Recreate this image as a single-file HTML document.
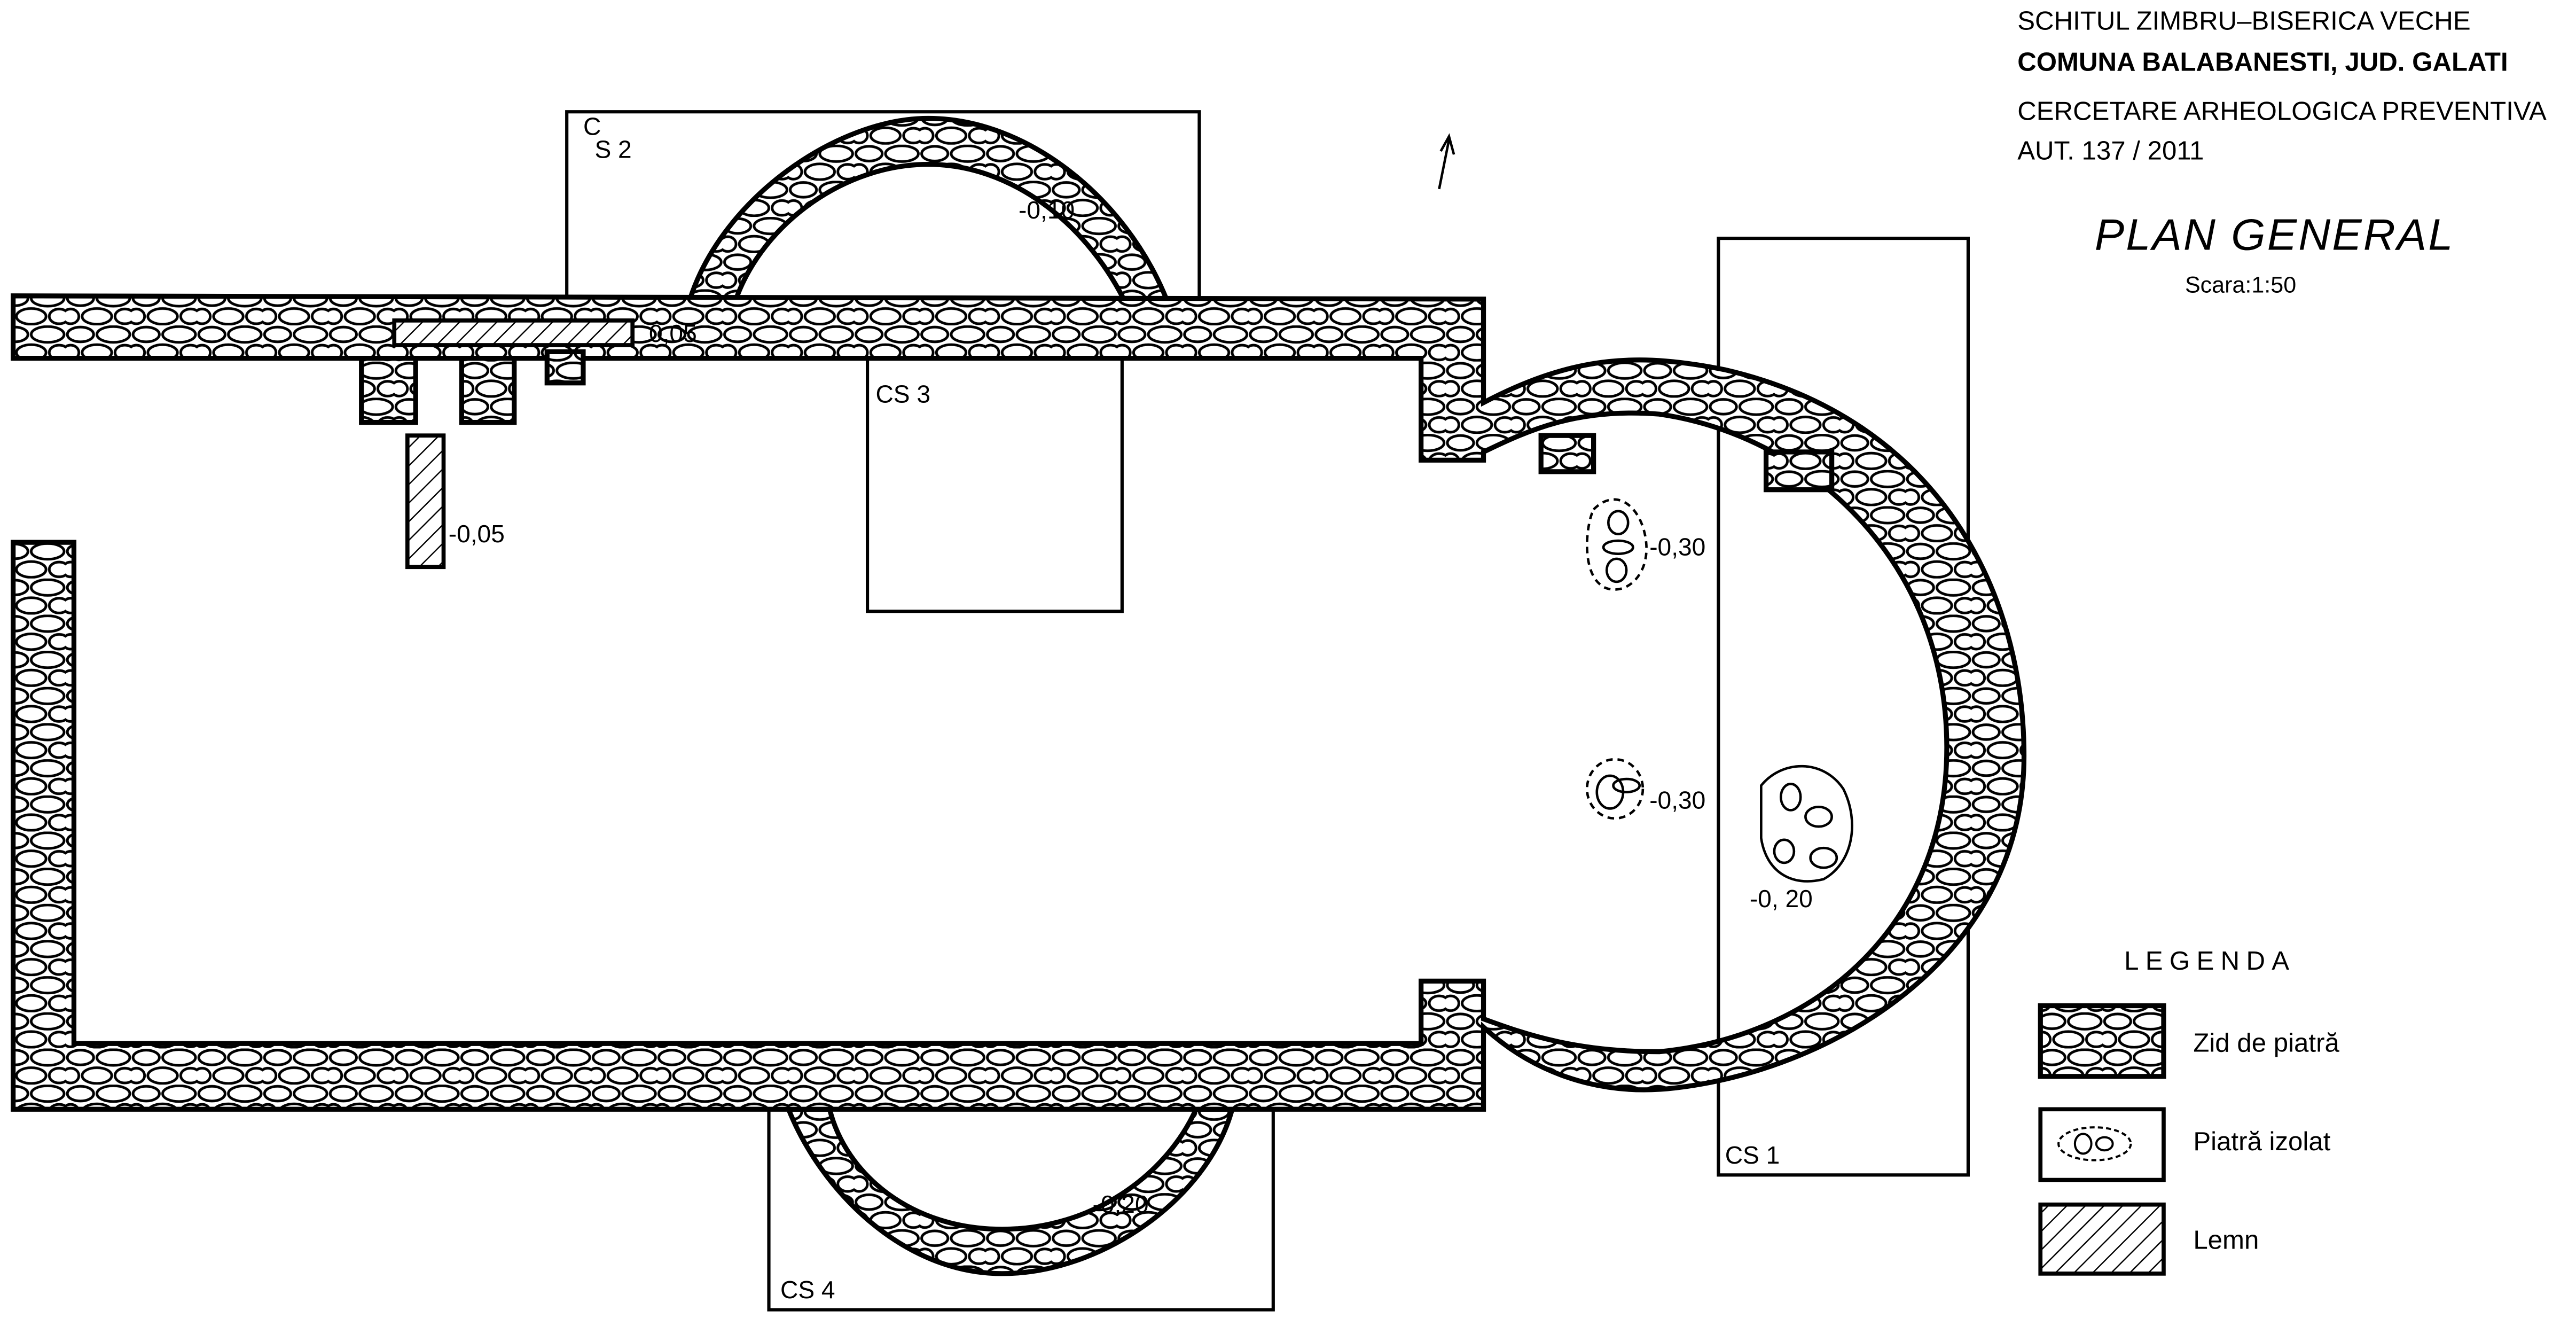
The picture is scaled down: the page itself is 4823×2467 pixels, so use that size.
<!DOCTYPE html>
<html><head><meta charset="utf-8"><style>
html,body{margin:0;padding:0;background:#fff}
svg{display:block}
text{font-family:"Liberation Sans",sans-serif;fill:#000}
</style></head><body>
<svg width="4823" height="2467" viewBox="0 0 1568 802" xmlns="http://www.w3.org/2000/svg">
<defs>
<pattern id="st" width="40" height="22" patternUnits="userSpaceOnUse">
<rect width="40" height="22" fill="#fff"/>
<g fill="#fff" stroke="#000" stroke-width="1.6">
<ellipse cx="9" cy="5.5" rx="8" ry="4.5"/>
<ellipse cx="29" cy="5.5" rx="10" ry="4.8"/>
<ellipse cx="3" cy="16.5" rx="5" ry="4.5"/>
<ellipse cx="19" cy="16.5" rx="9" ry="4.8"/>
<ellipse cx="36" cy="16.5" rx="6" ry="4.5"/>
</g>
</pattern>
<pattern id="hat" width="8" height="8" patternUnits="userSpaceOnUse" patternTransform="rotate(45)">
<rect width="8" height="8" fill="#fff"/><line x1="0" y1="0" x2="0" y2="8" stroke="#000" stroke-width="1.6"/>
</pattern>
</defs>
<g fill="none" stroke="#000" stroke-width="2">
<rect x="345" y="68" width="385" height="114"/>
<rect x="528" y="218" width="155" height="154"/>
<rect x="468" y="675" width="307" height="122"/>
<rect x="1046" y="145" width="152" height="570"/>
</g>
<g fill="url(#st)" stroke="#000" stroke-width="3">
<path d="M420,182 C440,120 510,72 565,72 C625,72 685,120 710,182 L684,182 C660,135 615,100 565,100 C515,100 465,135 448,182 Z"/>
<path d="M480,675 C500,725 550,775 610,775 C670,775 735,730 750,675 L728,675 C710,715 665,748 610,748 C555,748 515,715 505,675 Z"/>
<path d="M8,180 L903,182 L903,245 C960,215 1000,215 1050,225 C1180,255 1232,360 1232,460 C1232,580 1120,650 1020,662 C970,668 930,650 903,625 L903,675 L8,675 L8,330 L45,330 L45,635 L865,635 L865,597 L903,597 L903,620 C930,630 960,640 1010,640 C1110,630 1185,560 1185,455 C1185,340 1100,265 1010,252 C960,248 930,262 903,275 L903,280 L865,280 L865,218 L8,218 Z"/>
<rect x="220" y="218" width="33" height="39"/>
<rect x="281" y="218" width="32" height="39"/>
<rect x="333" y="214" width="22" height="19"/>
<rect x="938" y="265" width="32" height="22"/>
<rect x="1075" y="275" width="40" height="23"/>
</g>
<rect x="240" y="195" width="145" height="15" fill="url(#hat)" stroke="#000" stroke-width="2.5"/>
<rect x="248" y="265" width="22" height="80" fill="url(#hat)" stroke="#000" stroke-width="2.5"/>
<g fill="none" stroke="#000" stroke-width="1.5">
<path d="M970,310 C985,295 1000,310 1002,330 C1004,350 990,362 978,358 C962,352 965,320 970,310 Z" stroke-dasharray="4,3"/>
<ellipse cx="985" cy="318" rx="6" ry="7"/><ellipse cx="985" cy="333" rx="9" ry="4"/><ellipse cx="984" cy="347" rx="6" ry="7"/>
<ellipse cx="983" cy="480" rx="17" ry="18" stroke-dasharray="4,3"/>
<ellipse cx="980" cy="482" rx="8" ry="10"/><ellipse cx="990" cy="478" rx="8" ry="4"/>
<path d="M1072,478 C1085,462 1110,462 1122,480 C1132,500 1128,525 1110,535 C1090,540 1075,530 1072,510 Z"/>
<ellipse cx="1090" cy="485" rx="6" ry="8"/><ellipse cx="1107" cy="497" rx="8" ry="6"/><ellipse cx="1086" cy="518" rx="6" ry="7"/><ellipse cx="1110" cy="522" rx="8" ry="6"/>
<line x1="876" y1="115" x2="882" y2="85"/>
<path d="M877,92 L882,83 L885,94"/>
</g>
<g font-size="15">
<text x="355" y="82">C</text><text x="362" y="96">S 2</text>
<text x="620" y="133">-0,10</text>
<text x="395" y="208">0,05</text>
<text x="533" y="245">CS 3</text>
<text x="273" y="330">-0,05</text>
<text x="1004" y="338">-0,30</text>
<text x="1004" y="492">-0,30</text>
<text x="1065" y="552">-0, 20</text>
<text x="665" y="738">-0,20</text>
<text x="1050" y="708">CS 1</text>
<text x="475" y="790">CS 4</text>
</g>
<g font-size="16">
<text x="1228" y="18">SCHITUL ZIMBRU–BISERICA VECHE</text>
<text x="1228" y="43" font-weight="bold">COMUNA BALABANESTI, JUD. GALATI</text>
<text x="1228" y="73">CERCETARE ARHEOLOGICA PREVENTIVA</text>
<text x="1228" y="97">AUT. 137 / 2011</text>
<text x="1275" y="152" font-size="27" font-style="italic" letter-spacing="1">PLAN GENERAL</text>
<text x="1330" y="178" font-size="14">Scara:1:50</text>
<text x="1293" y="590" letter-spacing="4">LEGENDA</text>
<text x="1335" y="640">Zid de piatră</text>
<text x="1335" y="700">Piatră izolat</text>
<text x="1335" y="760">Lemn</text>
</g>
<rect x="1242" y="612" width="75" height="43" fill="url(#st)" stroke="#000" stroke-width="3"/>
<rect x="1242" y="675" width="75" height="43" fill="#fff" stroke="#000" stroke-width="2.5"/>
<ellipse cx="1275" cy="696" rx="22" ry="10" fill="none" stroke="#000" stroke-width="1.3" stroke-dasharray="3,2"/>
<ellipse cx="1268" cy="696" rx="5" ry="6" fill="none" stroke="#000" stroke-width="1.3"/>
<ellipse cx="1281" cy="696" rx="5" ry="4" fill="none" stroke="#000" stroke-width="1.3"/>
<rect x="1242" y="733" width="75" height="42" fill="url(#hat)" stroke="#000" stroke-width="2.5"/>
</svg>
</body></html>
